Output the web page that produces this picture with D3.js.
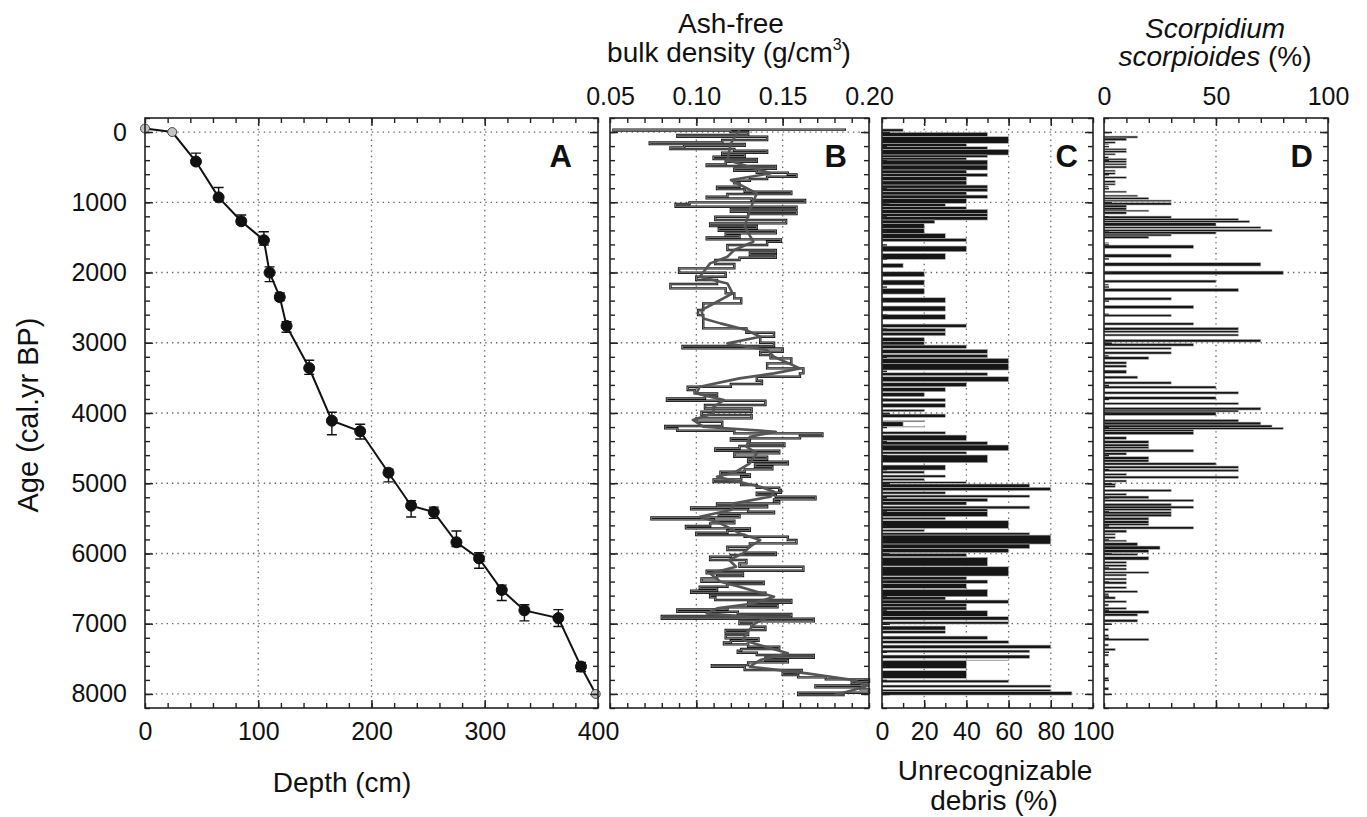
<!DOCTYPE html>
<html>
<head>
<meta charset="utf-8">
<script src="https://cdn.jsdelivr.net/npm/d3@7"></script>
<style>
  body { margin: 0; background: #ffffff; }
  svg text { font-family: "Liberation Sans", Arial, sans-serif; fill: #111; }
</style>
</head>
<body>
<div id="chart"></div>
<script>
// Panel A: age-depth model
const depthCm = [0, 24, 45, 65, 85, 105, 110, 119, 125, 145, 165, 190, 215, 235, 255, 275, 295, 315, 335, 365, 385, 398];
const ageBP = [-50, 0, 420, 930, 1270, 1540, 2000, 2350, 2760, 3360, 4110, 4260, 4850, 5320, 5410, 5840, 6070, 6520, 6810, 6920, 7610, 8000];
const ageYoung = [null, null, 300, 790, 1180, 1420, 1920, 2290, 2700, 3250, 3990, 4160, 4800, 5250, 5340, 5680, 5990, 6450, 6730, 6800, 7550, null];
const ageOld = [null, null, 460, 970, 1310, 1610, 2130, 2400, 2850, 3450, 4310, 4370, 4980, 5480, 5500, 5900, 6210, 6670, 6960, 7040, 7680, null];

// Panel B: ash-free bulk density, [age, g/cm3]
const densitySamples = [
  [-50,0.186],[-35,0.052],[-20,0.120],[0,0.130],[43,0.089],[66,0.141],[114,0.115],[147,0.073],[171,0.128],[195,0.093],
  [218,0.085],[242,0.122],[266,0.141],[294,0.115],[318,0.128],[351,0.110],[384,0.135],[422,0.117],[460,0.106],[484,0.146],
  [522,0.122],[550,0.135],[579,0.153],[603,0.158],[636,0.141],[669,0.131],[693,0.122],[731,0.125],[778,0.112],[812,0.128],
  [850,0.155],[883,0.118],[921,0.106],[944,0.132],[968,0.163],[1001,0.096],[1025,0.088],[1063,0.158],[1096,0.120],[1134,0.158],
  [1168,0.130],[1205,0.111],[1253,0.152],[1300,0.108],[1338,0.135],[1372,0.113],[1405,0.146],[1443,0.117],[1476,0.125],[1500,0.106],
  [1528,0.149],[1561,0.141],[1609,0.118],[1680,0.146],[1718,0.131],[1751,0.146],[1789,0.125],[1822,0.111],[1879,0.122],[1941,0.090],
  [2003,0.117],[2060,0.100],[2107,0.112],[2164,0.085],[2226,0.117],[2297,0.122],[2368,0.126],[2439,0.104],[2534,0.101],[2606,0.104],
  [2724,0.104],[2795,0.129],[2857,0.145],[2914,0.137],[2999,0.145],[3047,0.092],[3080,0.150],[3128,0.137],[3175,0.143],[3222,0.155],
  [3294,0.141],[3365,0.162],[3436,0.160],[3484,0.135],[3541,0.138],[3588,0.120],[3626,0.095],[3673,0.099],[3721,0.112],[3759,0.105],
  [3792,0.083],[3825,0.140],[3887,0.105],[3935,0.132],[3982,0.103],[4029,0.132],[4077,0.100],[4124,0.115],[4186,0.082],[4219,0.089],
  [4252,0.122],[4290,0.173],[4328,0.160],[4361,0.120],[4394,0.131],[4432,0.151],[4470,0.125],[4504,0.111],[4537,0.148],[4575,0.122],
  [4622,0.141],[4660,0.130],[4693,0.153],[4731,0.134],[4765,0.144],[4803,0.128],[4836,0.114],[4874,0.131],[4907,0.126],[4945,0.110],
  [4983,0.126],[5026,0.135],[5064,0.148],[5097,0.149],[5135,0.135],[5168,0.146],[5192,0.169],[5230,0.145],[5263,0.148],[5287,0.112],
  [5325,0.141],[5344,0.097],[5372,0.130],[5405,0.145],[5429,0.113],[5458,0.125],[5486,0.074],[5515,0.110],[5533,0.122],[5571,0.108],
  [5609,0.094],[5643,0.131],[5676,0.118],[5705,0.100],[5738,0.128],[5761,0.153],[5809,0.158],[5856,0.131],[5904,0.118],[5951,0.128],
  [5989,0.146],[6022,0.120],[6046,0.108],[6093,0.129],[6141,0.125],[6189,0.162],[6246,0.106],[6284,0.127],[6321,0.112],[6355,0.103],
  [6402,0.139],[6435,0.118],[6473,0.102],[6497,0.112],[6530,0.097],[6559,0.140],[6592,0.108],[6625,0.111],[6663,0.155],[6701,0.130],
  [6734,0.147],[6767,0.118],[6796,0.089],[6829,0.124],[6862,0.155],[6891,0.080],[6929,0.168],[6967,0.125],[7005,0.132],[7043,0.140],
  [7090,0.117],[7123,0.130],[7161,0.117],[7209,0.136],[7242,0.120],[7266,0.116],[7294,0.130],[7327,0.148],[7361,0.126],[7385,0.124],
  [7413,0.135],[7446,0.168],[7484,0.140],[7517,0.153],[7551,0.130],[7589,0.109],[7612,0.128],[7660,0.161],[7698,0.150],[7731,0.159],
  [7764,0.175],[7792,0.200],[7826,0.190],[7849,0.199],[7878,0.169],[7906,0.195],[7935,0.200],[7982,0.159],[8015,0.186]
];

// Panel B: smoothed density curve, [age, g/cm3]
const densitySmooth = [
  [-30,0.125],[161,0.120],[399,0.118],[588,0.143],[683,0.120],[873,0.135],[1111,0.131],[1348,0.128],[1561,0.133],[1680,0.122],
  [1775,0.118],[1870,0.108],[2060,0.102],[2155,0.118],[2297,0.121],[2416,0.112],[2534,0.103],[2653,0.104],[2724,0.114],[2819,0.129],
  [2914,0.137],[3009,0.118],[3104,0.141],[3199,0.145],[3365,0.160],[3436,0.145],[3507,0.125],[3626,0.102],[3721,0.100],[3816,0.116],
  [3911,0.110],[4005,0.110],[4100,0.098],[4195,0.104],[4266,0.146],[4338,0.131],[4480,0.129],[4575,0.135],[4717,0.131],[4836,0.123],
  [4907,0.112],[5049,0.137],[5121,0.145],[5192,0.143],[5287,0.122],[5382,0.120],[5476,0.102],[5571,0.114],[5714,0.125],[5809,0.137],
  [5904,0.131],[5999,0.127],[6093,0.119],[6189,0.123],[6284,0.108],[6402,0.114],[6473,0.125],[6616,0.145],[6711,0.133],[6782,0.112],
  [6853,0.106],[6924,0.140],[6995,0.134],[7138,0.129],[7233,0.127],[7327,0.140],[7422,0.153],[7517,0.137],[7612,0.131],[7707,0.164],
  [7802,0.191],[7888,0.199],[7944,0.191],[8015,0.180]
];

// Panel C: unrecognizable debris, [top age, bottom age, %]
const debrisBars = [
  [-45,-5,10],[5,66,50],[66,161,60],[161,209,40],[209,247,50],[247,327,60],[327,361,50],[361,399,40],[399,470,50],[470,541,50],
  [541,588,40],[588,636,50],[636,695,40],[695,755,40],[755,800,50],[800,850,50],[850,897,40],[897,944,50],[944,1016,40],[1016,1063,30],
  [1063,1101,40],[1101,1158,50],[1158,1205,50],[1205,1253,50],[1253,1300,25],[1300,1370,20],[1370,1443,20],[1443,1514,30],[1514,1561,40],
  [1623,1704,40],[1728,1813,30],[1870,1932,10],[1989,2060,20],[2107,2178,20],[2226,2307,20],[2359,2430,30],[2477,2549,30],[2596,2667,30],
  [2734,2781,40],[2795,2843,30],[2852,2900,30],[2924,2985,20],[2985,3033,20],[3033,3080,40],[3094,3151,50],[3166,3213,50],[3222,3294,60],
  [3294,3389,60],[3427,3469,50],[3484,3555,60],[3569,3626,40],[3640,3697,30],[3711,3768,20],[3792,3840,30],[3863,3920,30],
  [3948,3982,20],[4015,4062,30],[4110,4125,20],[4125,4190,10],[4190,4200,20],[4266,4300,30],[4314,4394,40],[4408,4456,50],[4456,4537,60],
  [4551,4584,40],[4598,4708,50],[4741,4812,30],[4826,4860,20],[4883,4916,30],[4931,4964,20],[4978,5002,40],[5011,5059,70],[5059,5106,80],
  [5121,5154,30],[5168,5201,70],[5215,5263,50],[5263,5310,40],[5325,5365,70],[5365,5405,50],[5405,5476,50],[5486,5519,30],[5533,5643,60],
  [5658,5690,20],[5705,5738,70],[5738,5866,80],[5866,5930,70],[5930,5989,60],[5999,6046,40],[6055,6179,50],[6189,6321,60],[6331,6378,40],
  [6378,6426,50],[6426,6497,40],[6511,6616,50],[6616,6663,30],[6663,6710,60],[6710,6760,40],[6760,6805,40],[6815,6900,50],[6900,6948,60],
  [6972,7005,60],[7033,7090,30],[7100,7138,30],[7176,7223,50],[7242,7280,60],[7304,7351,80],[7375,7413,70],[7446,7493,70],[7517,7527,60],
  [7527,7636,40],[7669,7778,40],[7802,7840,60],[7873,7906,80],[7935,7968,80],[7968,8016,90]
];

// Panel D: Scorpidium scorpioides, [top age, bottom age, %]
const scorpidiumBars = [
  [57,85,15],[85,123,10],[138,161,5],[161,180,2],[233,256,10],[266,294,10],[304,327,5],[351,375,2],[375,399,10],[408,437,10],
  [446,470,10],[484,513,10],[541,565,5],[579,603,5],[636,660,10],[693,721,5],[731,755,5],[769,788,2],[840,864,10],[897,921,15],
  [930,959,20],[968,992,30],[1006,1039,30],[1039,1073,10],[1073,1111,10],[1111,1134,20],[1134,1168,10],[1196,1229,30],[1229,1262,60],
  [1262,1291,65],[1291,1338,50],[1348,1372,70],[1386,1419,75],[1419,1452,50],[1452,1481,30],[1481,1514,20],[1571,1585,2],[1609,1656,40],
  [1737,1784,30],[1860,1908,70],[1979,2031,80],[2107,2145,50],[2164,2183,2],[2226,2273,60],[2354,2392,30],[2468,2515,40],[2582,2596,2],
  [2596,2629,30],[2715,2748,40],[2781,2819,60],[2829,2857,60],[2876,2904,60],[2952,2990,70],[3009,3047,40],[3066,3094,30],[3128,3161,30],
  [3175,3199,2],[3199,3237,20],[3270,3303,10],[3317,3351,10],[3389,3436,10],[3474,3512,15],[3555,3588,30],[3616,3650,50],[3697,3730,60],
  [3768,3806,50],[3853,3882,60],[3920,3958,70],[3958,3986,60],[3986,4034,50],[4091,4129,60],[4129,4171,70],[4171,4205,75],[4205,4233,80],
  [4233,4266,40],[4266,4309,40],[4338,4376,10],[4394,4432,20],[4442,4480,20],[4480,4508,20],[4518,4556,40],[4565,4598,10],[4622,4660,20],
  [4660,4698,20],[4708,4741,50],[4755,4788,60],[4803,4836,60],[4860,4888,10],[4898,4931,60],[4954,4983,10],[5002,5030,5],[5030,5059,5],
  [5087,5121,30],[5144,5173,10],[5182,5220,20],[5230,5263,40],[5287,5325,30],[5325,5358,40],[5358,5391,30],[5405,5439,30],[5439,5476,30],
  [5486,5524,20],[5533,5571,20],[5571,5600,20],[5619,5652,40],[5666,5704,10],[5714,5738,5],[5761,5790,5],[5809,5833,10],[5847,5894,15],
  [5894,5942,25],[5942,5989,20],[5999,6027,15],[6046,6093,20],[6112,6141,10],[6160,6189,10],[6207,6236,10],[6260,6284,20],[6293,6321,10],
  [6350,6378,10],[6402,6435,10],[6473,6502,10],[6530,6559,15],[6568,6592,2],[6616,6649,5],[6673,6701,10],[6720,6748,2],[6767,6796,10],
  [6815,6853,20],[6853,6891,15],[6938,6976,15],[7071,7100,2],[7156,7185,2],[7209,7242,20],[7289,7318,2],[7351,7384,5],[7432,7460,2],
  [7565,7593,2],[7764,7792,2],[7906,7944,2]
];

// axes
const ageDomain = [-200, 8200];
const ageLabels = [0, 1000, 2000, 3000, 4000, 5000, 6000, 7000, 8000];
const depthLabels = [0, 100, 200, 300, 400];
const densityLabels = [0.05, 0.10, 0.15, 0.20];
const debrisLabels = [0, 20, 40, 60, 80, 100];
const scorpLabels = [0, 50, 100];

const width = 1367;
const height = 817;
const plotTop = 118;
const plotBottom = 708;

const svg = d3.select("#chart")
  .append("svg")
  .attr("width", width)
  .attr("height", height);

const age = d3.scaleLinear()
  .domain(ageDomain)
  .range([plotTop, plotBottom]);

const panels = [
  { id: "A", left: 145, right: 598, domain: [0, 400], minorStep: 20, major: depthLabels, grid: [100, 200, 300], letterInset: 26 },
  { id: "B", left: 610, right: 869, domain: [0.05, 0.20], minorStep: 0.01, major: densityLabels, grid: [0.10, 0.15], letterInset: 22 },
  { id: "C", left: 882, right: 1093, domain: [0, 100], minorStep: 10, major: debrisLabels, grid: [20, 40, 60, 80], letterInset: 15 },
  { id: "D", left: 1104, right: 1328, domain: [0, 100], minorStep: 10, major: scorpLabels, grid: [50], letterInset: 15 }
];

panels.forEach(p => {
  p.x = d3.scaleLinear().domain(p.domain).range([p.left, p.right]);
  p.g = svg.append("g").attr("class", "panel-" + p.id);
  drawGrid(p);
});

// ---- panel A
const pA = panels[0];
const ageDepth = depthCm.map((d, i) => ({
  depth: d,
  age: ageBP[i],
  young: ageYoung[i],
  old: ageOld[i]
}));

pA.g.append("path")
  .datum(ageDepth)
  .attr("fill", "none")
  .attr("stroke", "#111")
  .attr("stroke-width", 2)
  .attr("d", d3.line().x(d => pA.x(d.depth)).y(d => age(d.age)));

const dated = ageDepth.filter(d => d.young !== null);

pA.g.selectAll(".err")
  .data(dated)
  .join("path")
  .attr("class", "err")
  .attr("fill", "none")
  .attr("stroke", "#111")
  .attr("stroke-width", 1.4)
  .attr("d", d => {
    const cx = pA.x(d.depth);
    const y1 = age(d.young);
    const y2 = age(d.old);
    return `M${cx - 5},${y1}H${cx + 5}M${cx},${y1}V${y2}M${cx - 5},${y2}H${cx + 5}`;
  });

pA.g.selectAll(".pt")
  .data(ageDepth)
  .join("circle")
  .attr("class", "pt")
  .attr("cx", d => pA.x(d.depth))
  .attr("cy", d => age(d.age))
  .attr("r", d => d.young === null ? 4.5 : 5.5)
  .attr("fill", d => d.young === null ? "#c4c4c4" : "#111")
  .attr("stroke", d => d.young === null ? "#444" : "#111")
  .attr("stroke-width", 1);

// ---- panel B
const pB = panels[1];
const stepLine = d3.line()
  .x(d => pB.x(d[1]))
  .y(d => age(d[0]))
  .curve(d3.curveStepBefore);

pB.g.append("path")
  .datum(densitySamples)
  .attr("fill", "none")
  .attr("stroke", "#111")
  .attr("stroke-width", 2.4)
  .attr("d", stepLine);

pB.g.append("path")
  .datum(densitySamples)
  .attr("fill", "none")
  .attr("stroke", "#9a9a9a")
  .attr("stroke-width", 0.8)
  .attr("d", stepLine);

pB.g.append("path")
  .datum(densitySmooth)
  .attr("fill", "none")
  .attr("stroke", "#555")
  .attr("stroke-width", 2.6)
  .attr("stroke-linejoin", "round")
  .attr("d", d3.line().x(d => pB.x(d[1])).y(d => age(d[0])));

// ---- panels C and D
drawBars(panels[2], debrisBars);
drawBars(panels[3], scorpidiumBars);

panels.forEach(p => drawFrame(p));

// ---- tick labels
svg.append("g")
  .attr("transform", `translate(${pA.left},0)`)
  .call(d3.axisLeft(age).tickValues(ageLabels).tickSize(0).tickPadding(18).tickFormat(d3.format("d")))
  .call(g => g.select(".domain").remove())
  .selectAll("text")
  .attr("font-size", "25px");

svg.append("g")
  .attr("transform", `translate(0,${plotBottom})`)
  .call(d3.axisBottom(pA.x).tickValues(depthLabels).tickSize(0).tickPadding(14).tickFormat(d3.format("d")))
  .call(g => g.select(".domain").remove())
  .selectAll("text")
  .attr("font-size", "25px");

svg.append("g")
  .attr("transform", `translate(0,${plotTop})`)
  .call(d3.axisTop(pB.x).tickValues(densityLabels).tickSize(0).tickPadding(13).tickFormat(d3.format(".2f")))
  .call(g => g.select(".domain").remove())
  .selectAll("text")
  .attr("font-size", "25px");

svg.append("g")
  .attr("transform", `translate(0,${plotBottom})`)
  .call(d3.axisBottom(panels[2].x).tickValues(debrisLabels).tickSize(0).tickPadding(14).tickFormat(d3.format("d")))
  .call(g => g.select(".domain").remove())
  .selectAll("text")
  .attr("font-size", "25px");

svg.append("g")
  .attr("transform", `translate(0,${plotTop})`)
  .call(d3.axisTop(panels[3].x).tickValues(scorpLabels).tickSize(0).tickPadding(13).tickFormat(d3.format("d")))
  .call(g => g.select(".domain").remove())
  .selectAll("text")
  .attr("font-size", "25px");

svg.selectAll(".tick text").attr("fill", "#111");

// ---- titles
svg.append("text")
  .attr("transform", "translate(38,415) rotate(-90)")
  .attr("text-anchor", "middle")
  .attr("font-size", "29px")
  .text("Age (cal.yr BP)");

svg.append("text")
  .attr("x", 342)
  .attr("y", 792)
  .attr("text-anchor", "middle")
  .attr("font-size", "28px")
  .text("Depth (cm)");

svg.append("text")
  .attr("x", 731)
  .attr("y", 33)
  .attr("text-anchor", "middle")
  .attr("font-size", "28px")
  .text("Ash-free");

const bulk = svg.append("text")
  .attr("x", 729)
  .attr("y", 62)
  .attr("text-anchor", "middle")
  .attr("font-size", "28px");
bulk.append("tspan").text("bulk density (g/cm");
bulk.append("tspan").attr("font-size", "16px").attr("dy", -12).text("3");
bulk.append("tspan").attr("dy", 12).text(")");

svg.append("text")
  .attr("x", 995)
  .attr("y", 780)
  .attr("text-anchor", "middle")
  .attr("font-size", "28px")
  .text("Unrecognizable");

svg.append("text")
  .attr("x", 994)
  .attr("y", 810)
  .attr("text-anchor", "middle")
  .attr("font-size", "28px")
  .text("debris (%)");

svg.append("text")
  .attr("x", 1215)
  .attr("y", 38)
  .attr("text-anchor", "middle")
  .attr("font-size", "28px")
  .attr("font-style", "italic")
  .text("Scorpidium");

const scorpTitle = svg.append("text")
  .attr("x", 1215)
  .attr("y", 66)
  .attr("text-anchor", "middle")
  .attr("font-size", "28px");
scorpTitle.append("tspan").attr("font-style", "italic").text("scorpioides");
scorpTitle.append("tspan").text(" (%)");

// panel letters
panels.forEach(p => {
  svg.append("text")
    .attr("x", p.right - p.letterInset)
    .attr("y", 167)
    .attr("text-anchor", "end")
    .attr("font-size", "31px")
    .attr("font-weight", "bold")
    .text(p.id);
});

function drawGrid(p) {
  const grid = p.g.append("g")
    .attr("stroke", "#666")
    .attr("stroke-width", 1.3)
    .attr("stroke-dasharray", "1.4,4");

  grid.selectAll(".hgrid")
    .data(ageLabels)
    .join("line")
    .attr("x1", p.left)
    .attr("x2", p.right)
    .attr("y1", d => age(d))
    .attr("y2", d => age(d));

  grid.selectAll(".vgrid")
    .data(p.grid)
    .join("line")
    .attr("x1", d => p.x(d))
    .attr("x2", d => p.x(d))
    .attr("y1", plotTop)
    .attr("y2", plotBottom);
}

function drawBars(p, rows) {
  p.g.selectAll(".bar")
    .data(rows)
    .join("rect")
    .attr("class", "bar")
    .attr("x", p.x(0))
    .attr("y", d => age(d[0]))
    .attr("width", d => p.x(d[2]) - p.x(0))
    .attr("height", d => age(d[1]) - age(d[0]))
    .attr("fill", "#161616")
    .attr("stroke", "#b8b8b8")
    .attr("stroke-width", 0.6);
}

function drawFrame(p) {
  const frame = svg.append("g").attr("color", "#222");
  const minorX = d3.range(p.domain[0], p.domain[1] + p.minorStep / 2, p.minorStep);
  const minorY = d3.range(ageDomain[0], ageDomain[1] + 1, 200);

  const clean = g => g.select(".domain").remove();

  frame.append("g")
    .attr("transform", `translate(0,${plotTop})`)
    .call(d3.axisTop(p.x).tickValues(minorX).tickSize(-5).tickFormat(""))
    .call(clean);
  frame.append("g")
    .attr("transform", `translate(0,${plotBottom})`)
    .call(d3.axisBottom(p.x).tickValues(minorX).tickSize(-5).tickFormat(""))
    .call(clean);
  frame.append("g")
    .attr("transform", `translate(0,${plotTop})`)
    .call(d3.axisTop(p.x).tickValues(p.grid).tickSize(-8).tickFormat(""))
    .call(clean);
  frame.append("g")
    .attr("transform", `translate(0,${plotBottom})`)
    .call(d3.axisBottom(p.x).tickValues(p.grid).tickSize(-8).tickFormat(""))
    .call(clean);

  frame.append("g")
    .attr("transform", `translate(${p.left},0)`)
    .call(d3.axisLeft(age).tickValues(minorY).tickSize(-5).tickFormat(""))
    .call(clean);
  frame.append("g")
    .attr("transform", `translate(${p.right},0)`)
    .call(d3.axisRight(age).tickValues(minorY).tickSize(-5).tickFormat(""))
    .call(clean);
  frame.append("g")
    .attr("transform", `translate(${p.left},0)`)
    .call(d3.axisLeft(age).tickValues(ageLabels).tickSize(-8).tickFormat(""))
    .call(clean);
  frame.append("g")
    .attr("transform", `translate(${p.right},0)`)
    .call(d3.axisRight(age).tickValues(ageLabels).tickSize(-8).tickFormat(""))
    .call(clean);

  frame.selectAll(".tick line").attr("stroke-width", 1.4);

  frame.append("rect")
    .attr("x", p.left)
    .attr("y", plotTop)
    .attr("width", p.right - p.left)
    .attr("height", plotBottom - plotTop)
    .attr("fill", "none")
    .attr("stroke", "#222")
    .attr("stroke-width", 1.6);
}
</script>
</body>
</html>
